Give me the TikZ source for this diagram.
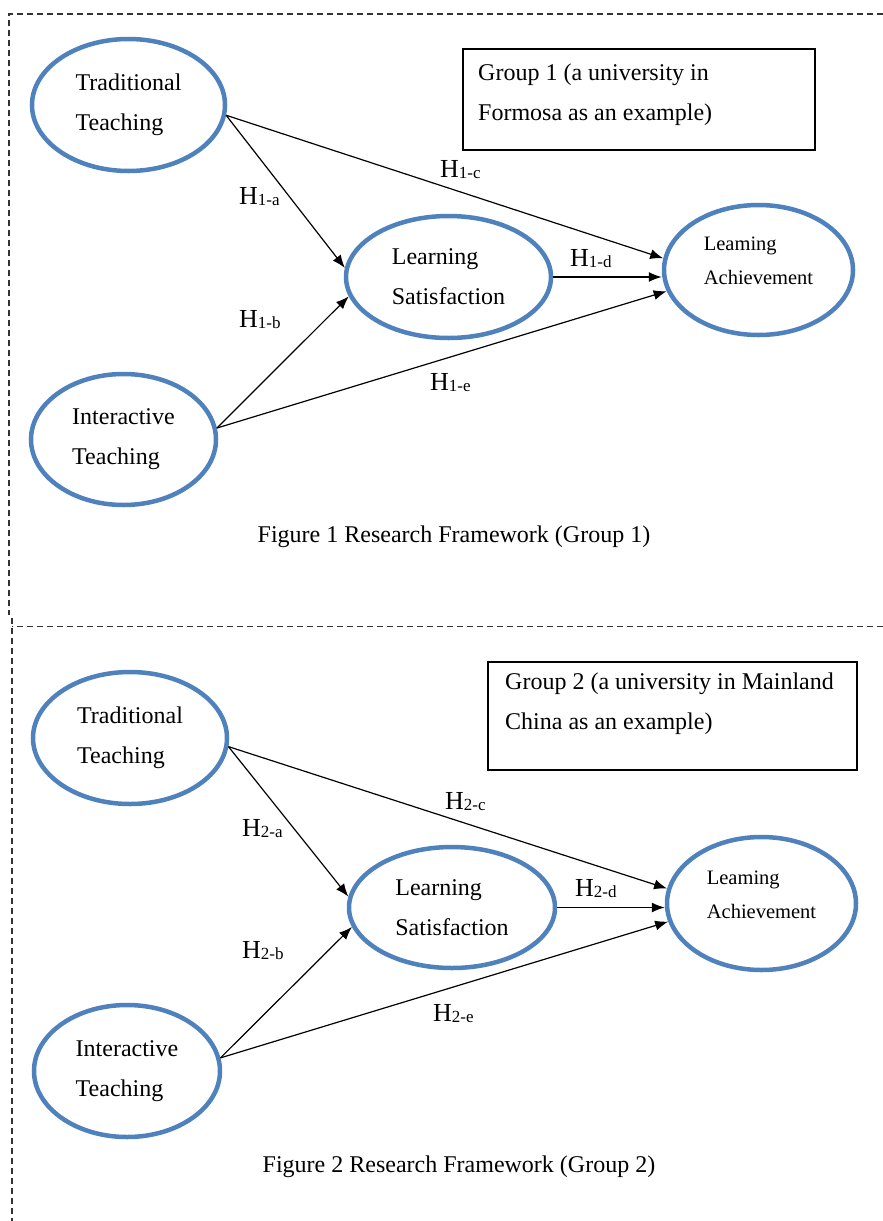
\documentclass[tikz,border=0pt]{standalone}
\usepackage{fontspec}
\setmainfont{Liberation Serif}
\usetikzlibrary{shapes.geometric,arrows.meta}

\definecolor{ovalblue}{RGB}{79,129,189}
\newcommand{\hyp}[1]{H\raisebox{-1.5pt}{\fontsize{17}{17}\selectfont #1}}

\tikzset{
  construct/.style={ellipse, draw=ovalblue, line width=4.5pt, inner sep=0pt,
    align=left, font=\fontsize{24}{40}\selectfont},
  smallconstruct/.style={construct, font=\fontsize{20.5}{34}\selectfont},
  hyplabel/.style={anchor=base west, inner sep=0pt, font=\fontsize{26}{26}\selectfont},
  effect/.style={->, line width=1.2pt},
  groupnote/.style={anchor=north west, inner sep=0pt, align=left,
    font=\fontsize{24}{40}\selectfont},
  notebox/.style={line width=1.3pt},
  figcaption/.style={inner sep=0pt, font=\fontsize{24}{24}\selectfont},
  borderline/.style={black!80, line width=1.1pt, dash pattern=on 6pt off 4pt}
}

\begin{document}
\begin{tikzpicture}[x=1pt, y=-1pt, >={Latex[length=13pt,width=10pt]}]

    \useasboundingbox (0,0) rectangle (883,1221);

    % 1. Khung nét đứt
    \draw[borderline] (883,14) -- (9,14) -- (9,615);
    \draw[borderline] (883,626.5) -- (12,626.5);
    \draw[borderline] (12,618) -- (12,1221);

    % 2. Nhóm 1
    \node[construct, minimum width=193pt, minimum height=132pt] (trad1) at (128.5,105) {Traditional\\Teaching};
    \node[construct, minimum width=205pt, minimum height=122pt] (sat1) at (448.5,277) {Learning\\Satisfaction};
    \node[smallconstruct, minimum width=189pt, minimum height=130pt, text depth=18pt] (achv1) at (758.5,270) {Leaming\\Achievement};
    \node[construct, minimum width=185pt, minimum height=131pt] (inter1) at (123.5,439.5) {Interactive\\Teaching};

    \draw[notebox] (463,49) rectangle (815,150);
    \node[groupnote] (note1) at (478,64) {Group 1 (a university in\\Formosa as an example)};

    % Các đường tác động
    \draw[effect] (trad1.-6) -- (sat1.175);
    \draw[effect] (trad1.-6) -- (achv1.173);
    \draw[effect] (inter1.7) -- (sat1.191);
    \draw[effect] (inter1.7) -- (achv1.193);
    \draw[effect] (sat1.east) -- (sat1.east -| achv1.west);

    \node[hyplabel] (h1a) at (239,204) {\hyp{1-a}};
    \node[hyplabel] (h1b) at (239,327) {\hyp{1-b}};
    \node[hyplabel] (h1c) at (440,177) {\hyp{1-c}};
    \node[hyplabel] (h1d) at (570,266) {\hyp{1-d}};
    \node[hyplabel] (h1e) at (430,390) {\hyp{1-e}};

    \node[figcaption] (cap1) at (454,537) {Figure 1 Research Framework (Group 1)};

    % 3. Nhóm 2
    \node[construct, minimum width=194pt, minimum height=132pt] (trad2) at (130,738) {Traditional\\Teaching};
    \node[construct, minimum width=206pt, minimum height=121pt] (sat2) at (452,907.5) {Learning\\Satisfaction};
    \node[smallconstruct, minimum width=189pt, minimum height=133pt, text depth=18pt] (achv2) at (761.5,903.5) {Leaming\\Achievement};
    \node[construct, minimum width=186pt, minimum height=132pt] (inter2) at (127,1071) {Interactive\\Teaching};

    \draw[notebox] (488,662) rectangle (857,770);
    \node[groupnote] (note2) at (505,673) {Group 2 (a university in Mainland\\China as an example)};

    % Các đường tác động
    \draw[effect] (trad2.-5) -- (sat2.174);
    \draw[effect] (trad2.-5) -- (achv2.171);
    \draw[effect] (inter2.8) -- (sat2.191);
    \draw[effect] (inter2.8) -- (achv2.191);
    \draw[effect] (sat2.east) -- (sat2.east -| achv2.west);

    \node[hyplabel] (h2a) at (242,836) {\hyp{2-a}};
    \node[hyplabel] (h2b) at (242,958) {\hyp{2-b}};
    \node[hyplabel] (h2c) at (445,809) {\hyp{2-c}};
    \node[hyplabel] (h2d) at (575,896) {\hyp{2-d}};
    \node[hyplabel] (h2e) at (433,1021) {\hyp{2-e}};

    \node[figcaption] (cap2) at (459,1167) {Figure 2 Research Framework (Group 2)};

\end{tikzpicture}
\end{document}
